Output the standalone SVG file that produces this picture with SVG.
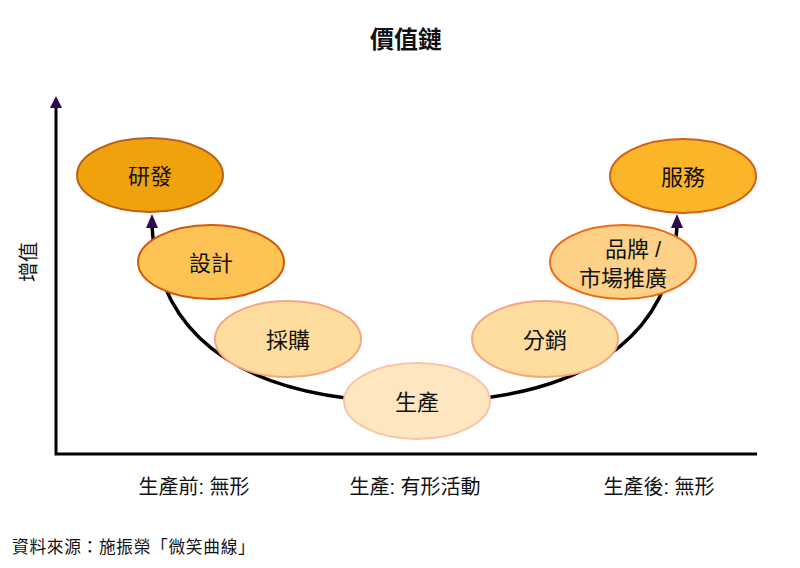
<svg xmlns="http://www.w3.org/2000/svg" width="800" height="568" viewBox="0 0 800 568">
<defs>
<style>
.t{font-family:"Liberation Sans","Noto Sans CJK TC",sans-serif;fill:#111;}
.node text{font-size:22px;text-anchor:middle;}
.ax{stroke:#000;stroke-width:3;fill:none;}
.cur{stroke:#000;stroke-width:3.5;fill:none;}
.ah{fill:#2e0a50;}
.lbl{font-size:20px;text-anchor:middle;}
</style>
</defs>
<rect width="800" height="568" fill="#fff"/>
<text class="t" x="406" y="48" font-size="24" font-weight="bold" text-anchor="middle" style="font-family:'Liberation Serif','Noto Sans CJK TC',serif">價值鏈</text>
<g id="axes">
<path class="ax" d="M56,106 V454 H757"/>
<polygon class="ah" points="56,96 50,108 62,108"/>
</g>
<text class="t" font-size="20" text-anchor="middle" transform="translate(36,262) rotate(-90)">增值</text>
<g id="connectors">
<path class="cur" d="M152,226 C158,345 255,402 416,402 C580,402 672,340 677,226"/>
<polygon class="ah" points="152,214 146,228 158,228"/>
<polygon class="ah" points="677,214 671,228 683,228"/>
</g>
<g id="n-rd" class="node"><ellipse cx="150" cy="175" rx="73" ry="37" fill="#f0a20c" stroke="#b8601c" stroke-width="2"/><text class="t" x="150" y="184">研發</text></g>
<g id="n-service" class="node"><ellipse cx="683" cy="176" rx="73" ry="37" fill="#fbb528" stroke="#d0601a" stroke-width="2"/><text class="t" x="683" y="185">服務</text></g>
<g id="n-design" class="node"><ellipse cx="211" cy="262" rx="73" ry="37" fill="#fdc455" stroke="#d4580c" stroke-width="2"/><text class="t" x="211" y="271">設計</text></g>
<g id="n-brand" class="node"><ellipse cx="623" cy="262" rx="73" ry="37" fill="#fdd288" stroke="#f06a14" stroke-width="2"/><text class="t" x="633" y="257">品牌 /</text><text class="t" x="623" y="286">市場推廣</text></g>
<g id="n-purchase" class="node"><ellipse cx="288" cy="339" rx="73" ry="38" fill="#fedd9f" stroke="#f7a682" stroke-width="2"/><text class="t" x="288" y="348">採購</text></g>
<g id="n-dist" class="node"><ellipse cx="545" cy="339" rx="73" ry="38" fill="#fedd9f" stroke="#f7a682" stroke-width="2"/><text class="t" x="545" y="348">分銷</text></g>
<g id="n-prod" class="node"><ellipse cx="417" cy="401" rx="73" ry="38" fill="#fee6c0" stroke="#f9c4a8" stroke-width="2"/><text class="t" x="417" y="410">生產</text></g>
<text class="t lbl" x="194" y="494">生產前: 無形</text>
<text class="t lbl" x="415" y="494">生產: 有形活動</text>
<text class="t lbl" x="659" y="494">生產後: 無形</text>
<text class="t" x="12" y="553" font-size="16.7" letter-spacing="0.7">資料來源：施振榮「微笑曲線」</text>
</svg>
